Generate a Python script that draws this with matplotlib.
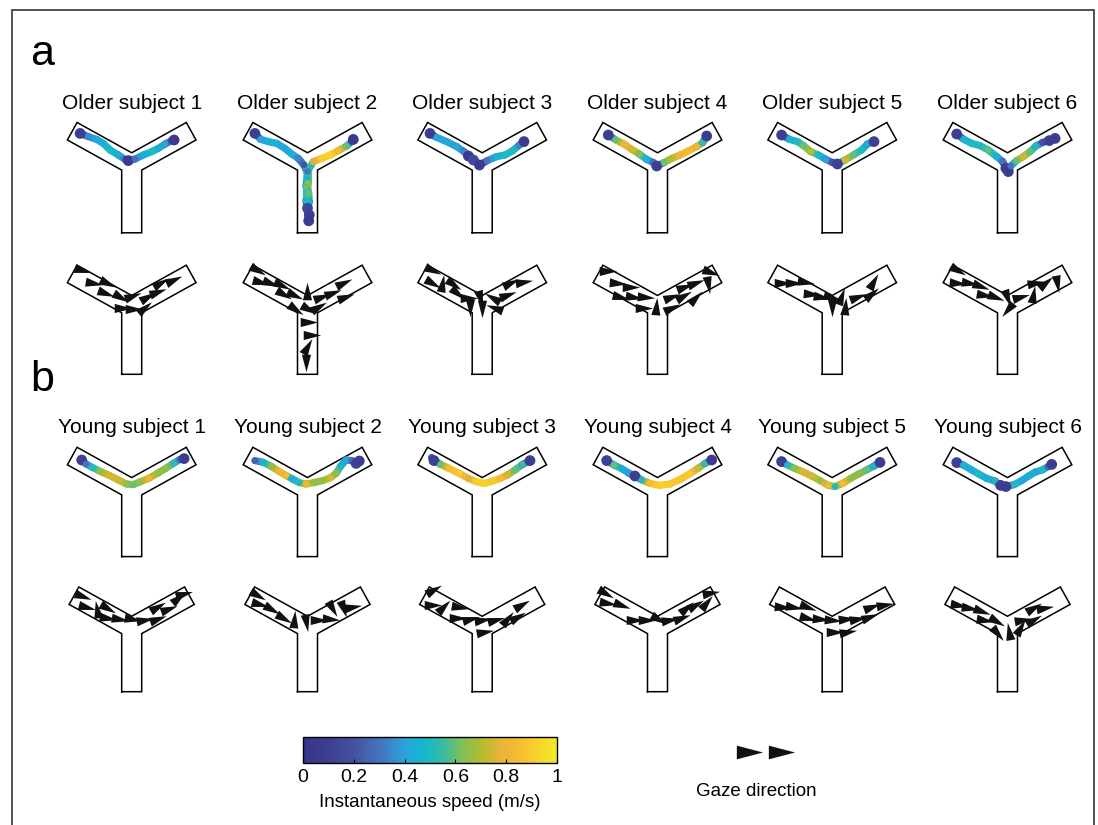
import numpy as np
import matplotlib
matplotlib.use('Agg')
import matplotlib.pyplot as plt
from matplotlib.collections import LineCollection
from matplotlib.colors import LinearSegmentedColormap, Normalize
from matplotlib.markers import MarkerStyle
from matplotlib.path import Path
from matplotlib.patches import Rectangle
import matplotlib.cm as cm

plt.rcParams['font.family'] = ['Liberation Sans', 'DejaVu Sans']

W, H = 1098, 825

older_titles = ['Older subject %d' % i for i in range(1, 7)]
young_titles = ['Young subject %d' % i for i in range(1, 7)]

# walking paths, maze units (stem width = 1, junction at 0,0)
older_paths = [
    [(-2.58, 1.54), (-2.17, 1.38), (-1.75, 1.24), (-1.42, 1.04), (-1.08, 0.71), (-0.67, 0.46),
     (-0.33, 0.24), (-0.17, 0.18), (0.17, 0.26), (0.58, 0.46), (1.0, 0.63), (1.33, 0.79),
     (1.67, 1.01), (2.0, 1.18), (2.12, 1.21)],
    [(-2.63, 1.54), (-2.34, 1.24), (-1.96, 1.13), (-1.54, 1.04), (-1.13, 0.79), (-0.79, 0.51),
     (-0.46, 0.29), (-0.18, -0.04), (0.0, -0.46), (0.0, -0.96), (0.06, -1.46), (0.09, -1.88),
     (0.0, -2.2), (0.09, -2.54), (0.06, -2.83), (-0.08, -1.79), (-0.08, -1.13), (0.0, -0.37),
     (0.29, 0.13), (0.71, 0.29), (1.13, 0.46), (1.54, 0.68), (1.96, 0.91), (2.21, 1.13),
     (2.29, 1.24)],
    [(-2.61, 1.54), (-2.28, 1.34), (-1.78, 1.13), (-1.28, 0.88), (-0.91, 0.63), (-0.69, 0.41),
     (-0.44, 0.21), (-0.14, -0.04), (0.26, 0.18), (0.72, 0.38), (1.14, 0.46), (1.52, 0.67),
     (1.86, 0.96), (2.09, 1.13)],
    [(-2.46, 1.46), (-2.08, 1.21), (-1.68, 1.01), (-1.29, 0.74), (-0.91, 0.51), (-0.54, 0.24),
     (-0.21, 0.08), (-0.04, -0.09), (0.33, 0.08), (0.71, 0.29), (1.13, 0.46), (1.54, 0.66),
     (1.96, 0.88), (2.26, 1.08), (2.46, 1.41)],
    [(-2.53, 1.46), (-2.14, 1.24), (-1.74, 1.13), (-1.41, 0.91), (-1.08, 0.63), (-0.69, 0.46),
     (-0.31, 0.24), (0.02, 0.08), (0.26, 0.01), (0.64, 0.21), (1.06, 0.46), (1.47, 0.71),
     (1.76, 1.01), (2.09, 1.13)],
    [(-2.54, 1.51), (-2.18, 1.24), (-1.79, 1.04), (-1.38, 0.93), (-0.96, 0.71), (-0.54, 0.38),
     (-0.24, 0.13), (-0.08, -0.21), (0.04, -0.37), (0.16, -0.09), (0.46, 0.18), (0.79, 0.38),
     (1.13, 0.63), (1.42, 0.91), (1.76, 1.09), (2.09, 1.18), (2.38, 1.29)],
]
older_speeds = [
    [0.1, 0.35, 0.4, 0.45, 0.5, 0.45, 0.3, 0.05, 0.3, 0.45, 0.5, 0.45, 0.4, 0.2, 0.05],
    [0.1, 0.4, 0.45, 0.45, 0.4, 0.45, 0.35, 0.2, 0.55, 0.65, 0.6, 0.45, 0.15, 0.1, 0.05,
     0.5, 0.6, 0.3, 0.75, 0.9, 0.92, 0.85, 0.6, 0.2, 0.05],
    [0.08, 0.4, 0.42, 0.4, 0.35, 0.05, 0.15, 0.05, 0.3, 0.45, 0.5, 0.5, 0.35, 0.08],
    [0.1, 0.6, 0.8, 0.75, 0.65, 0.45, 0.3, 0.1, 0.6, 0.7, 0.8, 0.85, 0.8, 0.55, 0.08],
    [0.1, 0.45, 0.5, 0.6, 0.7, 0.5, 0.4, 0.2, 0.1, 0.75, 0.6, 0.5, 0.45, 0.1],
    [0.1, 0.45, 0.5, 0.5, 0.6, 0.45, 0.3, 0.1, 0.08, 0.3, 0.6, 0.75, 0.6, 0.5, 0.2, 0.1, 0.08],
]
young_paths = [
    [(-2.5, 1.45), (-2.28, 1.25), (-1.95, 1.07), (-1.55, 0.87), (-1.12, 0.68), (-0.67, 0.45),
     (-0.25, 0.25), (0.08, 0.22), (0.45, 0.37), (0.85, 0.53), (1.28, 0.78), (1.7, 1.03),
     (2.08, 1.28), (2.42, 1.48), (2.62, 1.52)],
    [(-2.63, 1.42), (-2.21, 1.33), (-1.79, 1.12), (-1.41, 0.87), (-1.08, 0.68), (-0.79, 0.52),
     (-0.41, 0.32), (-0.08, 0.25), (0.33, 0.32), (0.76, 0.42), (1.16, 0.57), (1.43, 0.78),
     (1.66, 1.15), (1.93, 1.45), (2.21, 1.42), (2.43, 1.28), (2.59, 1.4)],
    [(-2.53, 1.57), (-2.41, 1.42), (-2.08, 1.23), (-1.64, 1.02), (-1.14, 0.78), (-0.69, 0.53),
     (-0.31, 0.37), (0.09, 0.28), (0.49, 0.38), (0.89, 0.53), (1.26, 0.7), (1.64, 0.95),
     (2.02, 1.23), (2.39, 1.42)],
    [(-2.54, 1.42), (-2.18, 1.2), (-1.79, 1.02), (-1.41, 0.78), (-1.13, 0.65), (-0.79, 0.45),
     (-0.38, 0.28), (0.13, 0.18), (0.63, 0.25), (1.13, 0.48), (1.59, 0.75), (2.01, 1.02),
     (2.38, 1.28), (2.71, 1.45)],
    [(-2.53, 1.37), (-2.24, 1.2), (-1.86, 1.02), (-1.44, 0.85), (-1.03, 0.65), (-0.61, 0.42),
     (-0.19, 0.18), (0.14, 0.12), (0.52, 0.28), (0.92, 0.53), (1.32, 0.75), (1.72, 0.95),
     (2.09, 1.15), (2.39, 1.33)],
    [(-2.54, 1.32), (-2.21, 1.2), (-1.84, 0.98), (-1.44, 0.75), (-1.04, 0.53), (-0.63, 0.4),
     (-0.34, 0.18), (-0.08, 0.12), (0.33, 0.22), (0.71, 0.42), (1.06, 0.65), (1.39, 0.85),
     (1.73, 0.95), (2.04, 1.12), (2.21, 1.23)],
]
young_speeds = [
    [0.1, 0.3, 0.5, 0.65, 0.75, 0.75, 0.65, 0.6, 0.65, 0.8, 0.65, 0.65, 0.55, 0.3, 0.08],
    [0.25, 0.45, 0.65, 0.8, 0.85, 0.45, 0.5, 0.8, 0.65, 0.65, 0.75, 0.65, 0.5, 0.4, 0.3, 0.1, 0.08],
    [0.2, 0.1, 0.6, 0.85, 0.9, 0.75, 0.9, 0.92, 0.9, 0.85, 0.75, 0.6, 0.55, 0.08],
    [0.1, 0.6, 0.45, 0.4, 0.1, 0.5, 0.85, 0.9, 0.9, 0.88, 0.9, 0.75, 0.55, 0.08],
    [0.1, 0.5, 0.65, 0.75, 0.75, 0.65, 0.85, 0.5, 0.85, 0.65, 0.65, 0.6, 0.5, 0.08],
    [0.1, 0.45, 0.42, 0.5, 0.42, 0.5, 0.1, 0.1, 0.5, 0.4, 0.45, 0.4, 0.5, 0.3, 0.08],
]

# gaze arrows: x, y (maze units), direction in degrees
older_gaze = [
    [(-2.5, 1.85, -15), (-1.92, 1.21, -10), (-1.22, 1.18, -25), (-1.33, 0.71, -20),
     (-0.58, 0.51, -30), (0.0, 0.55, 20), (-0.5, -0.07, 0), (0.08, -0.1, 0), (0.62, -0.07, 40),
     (0.75, 0.48, 30), (1.25, 0.76, 20), (1.42, 1.21, 30), (2.05, 1.35, 25)],
    [(-2.54, 1.85, -30), (-2.38, 1.26, -15), (-1.88, 1.18, -20), (-1.34, 1.1, -25),
     (-1.21, 0.65, -30), (-0.68, 0.6, -25), (-0.63, -0.1, -35), (-0.04, 0.76, 90),
     (0.04, -0.1, -30), (0.54, 0.01, 30), (0.66, 0.48, 20), (1.21, 0.71, 20), (1.79, 1.21, 25),
     (1.88, 0.51, 20), (0.04, -0.74, 0), (0.16, -1.4, 0), (-0.04, -2.02, 60), (-0.08, -2.74, -90)],
    [(-2.53, 1.85, -25), (-2.53, 1.21, -30), (-2.03, 1.15, 80), (-1.44, 1.15, -35),
     (-1.28, 0.68, -40), (-0.69, 0.43, 0), (-0.61, 0.01, -90), (-0.11, 0.43, -75),
     (-0.03, -0.07, -90), (0.52, 0.43, 150), (0.64, -0.07, 160), (1.22, 0.59, 20),
     (1.39, 1.18, 25), (2.06, 1.26, 10)],
    [(-2.54, 1.81, 0), (-2.04, 1.18, -5), (-1.38, 1.01, 0), (-1.88, 0.51, -15), (-1.21, 0.51, -10),
     (-0.63, 0.51, -5), (-0.71, -0.07, 0), (-0.08, 0.01, 85), (0.66, -0.07, 25), (0.66, 0.51, 20),
     (1.26, 0.54, 30), (1.33, 1.01, 20), (1.88, 0.43, 45), (1.88, 1.21, 20), (2.54, 1.15, -80),
     (2.62, 1.76, -20)],
    [(-2.53, 1.21, 0), (-1.94, 1.21, 0), (-1.36, 1.26, -10), (-1.08, 0.65, -5), (-0.58, 0.51, -10),
     (-0.08, 0.51, -15), (-0.03, -0.02, -90), (0.43, 0.51, 70), (0.64, 0.01, 85), (1.26, 0.51, 20),
     (1.93, 0.65, 40), (2.06, 1.26, 60)],
    [(-2.54, 1.85, -30), (-2.51, 1.18, -5), (-1.94, 1.18, -10), (-1.38, 1.05, -20),
     (-1.18, 0.6, -10), (-0.63, 0.51, -20), (-0.04, 0.48, -70), (0.0, -0.1, 230),
     (0.63, 0.48, 15), (1.26, 0.6, 80), (1.38, 1.18, 10), (1.88, 1.18, 40), (2.49, 1.21, -80)],
]
young_gaze = [
    [(-2.47, 1.58, -20), (-2.28, 1.02, -15), (-1.75, 0.88, 100), (-1.22, 0.97, -30),
     (-1.22, 0.47, -10), (-0.62, 0.43, -10), (0.0, 0.42, -10), (0.62, 0.38, 10), (1.28, 0.42, 20),
     (1.28, 1.02, 30), (1.83, 0.92, 20), (2.33, 1.47, 40), (2.55, 1.68, 15)],
    [(-2.54, 1.63, -30), (-2.41, 1.18, -15), (-1.84, 0.92, -30), (-1.24, 0.47, -30),
     (-0.68, 0.38, 85), (-0.09, 0.27, -80), (0.54, 0.38, 0), (1.13, 0.42, -5), (1.21, 0.97, -60),
     (1.76, 0.97, -70), (2.21, 1.02, 10)],
    [(-2.44, 1.88, 30), (-2.53, 1.13, 0), (-1.94, 1.05, 45), (-1.14, 1.02, -10), (-1.24, 0.47, 0),
     (-0.61, 0.42, 15), (-0.03, 0.38, 10), (0.09, -0.2, 10), (0.64, 0.38, 15), (1.26, 0.42, 50),
     (1.76, 0.52, 30), (1.93, 1.13, 30)],
    [(-2.63, 1.72, -30), (-2.51, 1.22, -10), (-1.84, 1.13, -20), (-1.18, 0.38, 0), (-0.58, 0.38, 0),
     (0.0, 0.42, -30), (0.59, 0.38, 10), (1.16, 0.47, 20), (1.43, 0.97, 40), (1.88, 1.13, 30),
     (2.43, 1.25, 50), (2.62, 1.72, 10)],
    [(-2.53, 1.05, -5), (-1.94, 1.05, -10), (-1.24, 1.05, -20), (-1.24, 0.47, -15),
     (-0.61, 0.42, -5), (0.0, 0.38, -5), (0.67, 0.42, 5), (1.26, 0.42, 10), (1.84, 0.52, 20),
     (1.93, 1.05, 20), (2.59, 1.13, 10), (0.09, -0.2, 0), (0.72, -0.2, 10)],
    [(-2.46, 1.13, -10), (-1.91, 0.97, -10), (-1.34, 0.85, -20), (-1.18, 0.38, -10),
     (-0.58, 0.35, -30), (-0.51, -0.25, -50), (0.08, -0.2, 100), (0.63, -0.03, 60),
     (0.71, 0.38, 10), (1.26, 0.38, 30), (1.26, 0.97, 30), (1.83, 0.97, 10)],
]

cbar_ticks = [0, 0.2, 0.4, 0.6, 0.8, 1]
cbar_labels = ['0', '0.2', '0.4', '0.6', '0.8', '1']

# parula-like colormap, colours picked off the printed bar
parula = LinearSegmentedColormap.from_list('parula', [
    (0.0, '#37358a'), (0.1, '#3d3f93'), (0.2, '#44529f'), (0.3, '#4672bd'),
    (0.4, '#2aa2dc'), (0.47, '#14b6cf'), (0.55, '#35bba6'), (0.62, '#7cbf5e'),
    (0.7, '#b3bd2e'), (0.78, '#e8b438'), (0.85, '#f7ba33'), (0.93, '#f7d52a'),
    (1.0, '#f2ea2a')])
norm = Normalize(0, 1)

col_x = [131.7, 307.5, 482.2, 657.5, 832.2, 1007.5]
row_y = [164.2, 306.9, 489.0, 627.7]
row_stem = [3.43, 3.37, 3.38, 3.2]
row_arm = [3.4, 3.4, 3.4, 3.3]

tri = Path([(1.0, 0.0), (-0.8, 0.47), (-0.8, -0.47), (1.0, 0.0)], closed=True)

fig = plt.figure(figsize=(W / 100, H / 100), dpi=100)


def px_axes(cx, cy, w, h):
    return fig.add_axes([(cx - w / 2) / W, 1 - (cy + h / 2) / H, w / W, h / H])


def maze_outline(theta, arm, stem):
    t = np.radians(theta)
    d = np.array([np.cos(t), np.sin(t)])
    n = np.array([-np.sin(t), np.cos(t)])
    low_in = np.array([0.5, (-0.5 + 0.5 * np.sin(t)) / np.cos(t)])
    low_out = arm * d - 0.5 * n
    up_out = arm * d + 0.5 * n
    top = np.array([0.0, 0.5 / np.cos(t)])
    m = np.array([-1, 1])
    pts = [(-0.5, -stem), (0.5, -stem), low_in, low_out, up_out, top,
           up_out * m, low_out * m, low_in * m, (-0.5, -stem)]
    return np.array(pts, dtype=float)


def panel(cx, cy, arm, stem):
    ax = px_axes(cx, cy, 160, 140)
    pts = maze_outline(29, arm, stem)
    ax.plot(pts[:, 0], pts[:, 1], color='k', lw=1.1, solid_joinstyle='miter')
    ax.set_xlim(-4, 4)
    ax.set_ylim(-3.5, 3.5)
    ax.axis('off')
    return ax


def draw_path(ax, path, speed):
    p = np.array(path)
    s = np.array(speed)
    segs = np.stack([p[:-1], p[1:]], axis=1)
    lc = LineCollection(segs, cmap=parula, norm=norm, linewidths=5.2, capstyle='round')
    lc.set_array((s[:-1] + s[1:]) / 2)
    ax.add_collection(lc)
    ax.scatter(p[:, 0], p[:, 1], c=s, cmap=parula, norm=norm,
               s=np.where(s < 0.2, 60, 22), edgecolors='none', zorder=3)


def draw_gaze(ax, gaze, ms=14):
    for x, y, a in gaze:
        ax.plot(x, y, marker=MarkerStyle(tri).rotated(deg=a), ms=ms, mew=0,
                color='#111111', ls='none')


for i in range(6):
    ax = panel(col_x[i], row_y[0], row_arm[0], row_stem[0])
    draw_path(ax, older_paths[i], older_speeds[i])
    ax = panel(col_x[i], row_y[1], row_arm[1], row_stem[1])
    draw_gaze(ax, older_gaze[i])
    ax = panel(col_x[i], row_y[2], row_arm[2], row_stem[2])
    draw_path(ax, young_paths[i], young_speeds[i])
    ax = panel(col_x[i], row_y[3], row_arm[3], row_stem[3])
    draw_gaze(ax, young_gaze[i])
    fig.text(col_x[i] / W, 1 - 109 / H, older_titles[i], ha='center', va='baseline', fontsize=15)
    fig.text(col_x[i] / W, 1 - 433 / H, young_titles[i], ha='center', va='baseline', fontsize=15)

fig.text(42 / W, 1 - 65 / H, 'a', ha='center', va='baseline', fontsize=31)
fig.text(42 / W, 1 - 391 / H, 'b', ha='center', va='baseline', fontsize=31)

# colorbar
cax = fig.add_axes([303 / W, 1 - 763 / H, 254 / W, 26 / H])
sm = cm.ScalarMappable(norm=norm, cmap=parula)
cb = fig.colorbar(sm, cax=cax, orientation='horizontal', ticks=cbar_ticks)
cb.ax.set_xticklabels(cbar_labels)
cb.ax.tick_params(direction='in', length=3, width=0.8, labelsize=14, pad=4)
cb.outline.set_linewidth(1.0)
cb.set_label('Instantaneous speed (m/s)', fontsize=13.5, labelpad=6)

# gaze legend
lax = px_axes(764, 752, 90, 30)
lax.plot([0, 1], [0, 0], ls='none', marker=MarkerStyle(tri), ms=21, mew=0, color='#111111')
lax.set_xlim(-28.5 / 32, 61.5 / 32)
lax.set_ylim(-1, 1)
lax.axis('off')
fig.text(756 / W, 1 - 796 / H, 'Gaze direction', ha='center', va='baseline', fontsize=13.5)

# frame around the figure
fig.patches.append(Rectangle((11.5 / W, -0.05), (1093.7 - 11.5) / W, 1.05 - 10.5 / H,
                             transform=fig.transFigure, fill=False, lw=1.2, ec='#333333'))

fig.savefig('out.png', dpi=100)
